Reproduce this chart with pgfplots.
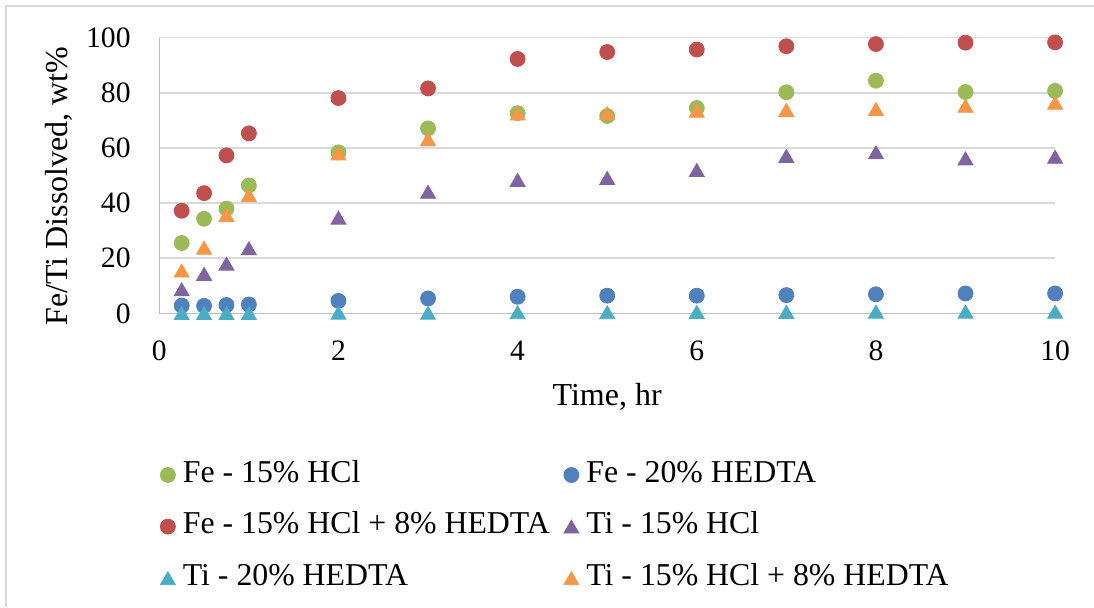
\documentclass[border=0pt]{standalone}
\usepackage{pgfplots}
\pgfplotsset{compat=1.18}
\usepackage{fontspec}
\setmainfont{Liberation Serif}
\definecolor{cgreen}{HTML}{9BBB59}
\definecolor{cblue}{HTML}{4F81BD}
\definecolor{cred}{HTML}{C0504D}
\definecolor{cpurple}{HTML}{8064A2}
\definecolor{ccyan}{HTML}{4BACC6}
\definecolor{corange}{HTML}{F79646}
\definecolor{gridc}{HTML}{D9D9D9}
\definecolor{axc}{HTML}{BFBFBF}
\newcommand{\cA}[1]{\makebox[186.75pt][l]{#1}}
\begin{document}
\begin{tikzpicture}[font=\fontsize{16}{19}\selectfont]
\useasboundingbox (0,0) rectangle (547pt,303.5pt);
\draw[gridc, line width=1pt] (2.75pt,0) -- (2.75pt,300.25pt) -- (547pt,300.25pt);
\begin{axis}[
  at={(79.65pt,146.85pt)}, anchor=south west,
  scale only axis, width=447.9pt, height=137.8pt,
  xmin=0, xmax=10, ymin=0, ymax=100,
  xtick={0,2,...,10}, ytick={0,20,...,100},
  axis x line*=bottom, axis y line*=left,
  axis line style={-, draw=axc, line width=0.75pt},
  ymajorgrids, grid style={draw=gridc, line width=0.75pt},
  major tick length=0pt,
  /pgf/number format/assume math mode=true,
  ticklabel style={font=\fontsize{14.8}{17}\selectfont},
  yticklabel style={anchor=east, inner sep=0pt, xshift=-14.15pt},
  xticklabel style={anchor=north, inner sep=0pt, yshift=-13.8pt},
  xlabel={Time, hr}, ylabel={Fe/Ti Dissolved, wt\%},
  xlabel style={at={(axis description cs:0.5,-0.3037)}, anchor=center},
  ylabel style={at={(axis description cs:-0.112,0.462)}, anchor=center},
  clip=false,
  legend columns=2,
  legend cell align=left,
  legend style={at={(axis description cs:0.00078,-0.5381)}, anchor=north west, draw=none, fill=none, inner sep=0pt, column sep=3.75pt, row sep=12.8pt, font=\fontsize{15.9}{18}\selectfont, nodes={inner sep=0pt, text height=10pt, text depth=3pt, align=left}},
  legend image code/.code={\draw[mark repeat=2,mark phase=2,#1] plot coordinates {(0pt,0pt) (3.75pt,0pt) (7.5pt,0pt)};},
]
\addplot[only marks, mark=*, mark size=3.75pt, mark options={fill=cgreen, draw=cgreen}] coordinates {
(0.25,25.5) (0.5,34.3) (0.75,38.0) (1,46.4) (2,58.4) (3,67.1) (4,72.6) (5,71.6) (6,74.5) (7,80.2) (8,84.4) (9,80.3) (10,80.7)};
\addlegendentry{\cA{Fe - 15\% HCl}}
\addplot[only marks, mark=*, mark size=3.75pt, mark options={fill=cblue, draw=cblue}] coordinates {
(0.25,2.8) (0.5,2.7) (0.75,3.0) (1,3.2) (2,4.5) (3,5.4) (4,6.0) (5,6.4) (6,6.4) (7,6.6) (8,6.9) (9,7.2) (10,7.2)};
\addlegendentry{Fe - 20\% HEDTA}
\addplot[only marks, mark=*, mark size=3.75pt, mark options={fill=cred, draw=cred}] coordinates {
(0.25,37.2) (0.5,43.6) (0.75,57.3) (1,65.3) (2,78.1) (3,81.6) (4,92.3) (5,94.8) (6,95.7) (7,96.9) (8,97.7) (9,98.2) (10,98.3)};
\addlegendentry{\cA{Fe - 15\% HCl + 8\% HEDTA}}
\addplot[only marks, mark=triangle*, mark size=4.33pt, mark options={fill=cpurple, draw=cpurple, yshift=-1.08pt}] coordinates {
(0.25,8.7) (0.5,14.3) (0.75,18.0) (1,23.6) (2,34.7) (3,44.1) (4,48.4) (5,49.1) (6,52.0) (7,57.1) (8,58.4) (9,56.2) (10,56.8)};
\addlegendentry{Ti - 15\% HCl}
\addplot[only marks, mark=triangle*, mark size=4.33pt, mark options={fill=ccyan, draw=ccyan, yshift=-1.08pt}] coordinates {
(0.25,0.1) (0.5,0.1) (0.75,0.1) (1,0.1) (2,0.2) (3,0.2) (4,0.4) (5,0.4) (6,0.5) (7,0.5) (8,0.6) (9,0.6) (10,0.6)};
\addlegendentry{\cA{Ti - 20\% HEDTA}}
\addplot[only marks, mark=triangle*, mark size=4.33pt, mark options={fill=corange, draw=corange, yshift=-1.08pt}] coordinates {
(0.25,15.5) (0.5,23.8) (0.75,35.7) (1,42.9) (2,58.0) (3,63.2) (4,72.5) (5,72.6) (6,73.5) (7,73.8) (8,74.1) (9,75.3) (10,76.4)};
\addlegendentry{Ti - 15\% HCl + 8\% HEDTA}
\end{axis}
\end{tikzpicture}
\end{document}
